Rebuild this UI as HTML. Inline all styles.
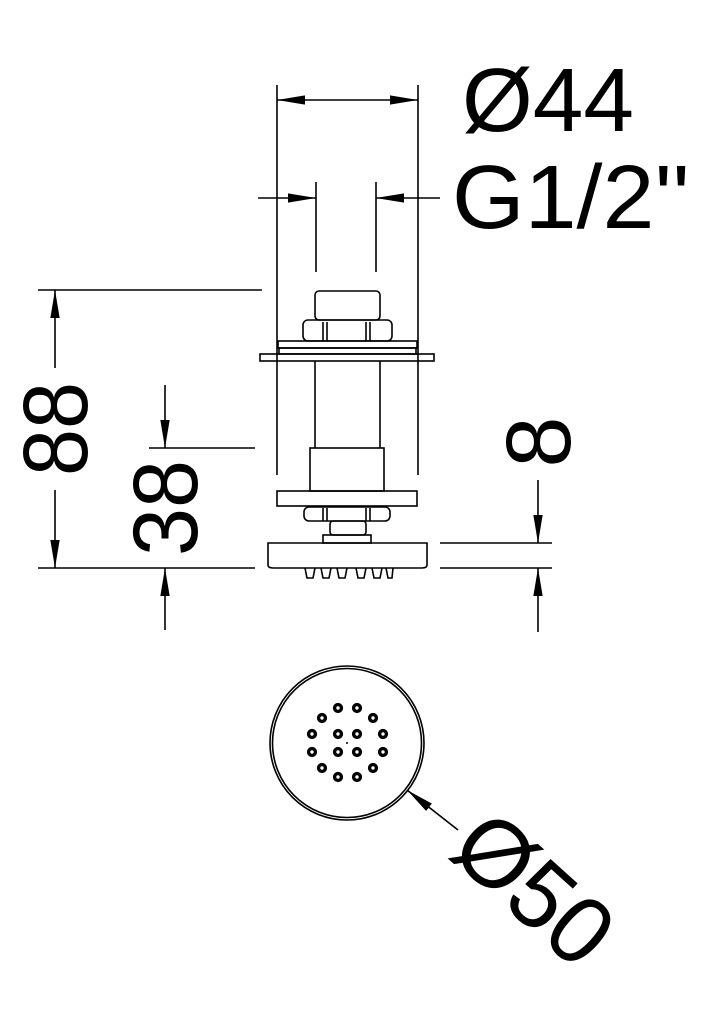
<!DOCTYPE html>
<html><head><meta charset="utf-8"><style>
html,body{margin:0;padding:0;background:#fff;}
svg{display:block;}
text{font-family:"Liberation Sans","DejaVu Sans",sans-serif;fill:#000;}
</style></head><body>
<svg width="724" height="1024" viewBox="0 0 724 1024" xmlns="http://www.w3.org/2000/svg">
<defs>
<marker id="b" viewBox="0 0 30 10" refX="30" refY="5" markerWidth="28" markerHeight="12" markerUnits="userSpaceOnUse" orient="auto-start-reverse">
<path d="M0,0 L30,5 L0,10 z" fill="#000"/></marker>
</defs>
<g stroke="#000" stroke-width="1.6" fill="none">
<line x1="277" y1="85" x2="277" y2="475"/>
<line x1="418" y1="85" x2="418" y2="475"/>
<line x1="316" y1="182" x2="316" y2="272"/>
<line x1="376" y1="182" x2="376" y2="272"/>
<line x1="277" y1="100" x2="418" y2="100" marker-start="url(#b)" marker-end="url(#b)"/>
<line x1="258" y1="198" x2="316" y2="198" marker-end="url(#b)"/>
<line x1="440" y1="198" x2="376" y2="198" marker-end="url(#b)"/>
<line x1="38" y1="290" x2="262" y2="290"/>
<line x1="38" y1="568" x2="255" y2="568"/>
<line x1="55" y1="368" x2="55" y2="290" marker-end="url(#b)"/>
<line x1="55" y1="490" x2="55" y2="568" marker-end="url(#b)"/>
<line x1="149" y1="448" x2="255" y2="448"/>
<line x1="165" y1="385" x2="165" y2="448" marker-end="url(#b)"/>
<line x1="165" y1="630" x2="165" y2="568" marker-end="url(#b)"/>
<line x1="440" y1="543" x2="552" y2="543"/>
<line x1="440" y1="568" x2="552" y2="568"/>
<line x1="538" y1="480" x2="538" y2="543" marker-end="url(#b)"/>
<line x1="538" y1="632" x2="538" y2="568" marker-end="url(#b)"/>
<rect x="315" y="291" width="65" height="29" rx="4"/>
<rect x="303" y="320" width="89" height="21" rx="5"/>
<line x1="323" y1="322" x2="323" y2="341"/><line x1="327" y1="322" x2="327" y2="341"/>
<line x1="366" y1="322" x2="366" y2="341"/><line x1="370" y1="322" x2="370" y2="341"/>
<rect x="278" y="341" width="139" height="7"/>
<rect x="279" y="348" width="137" height="6"/>
<rect x="260" y="354" width="174" height="7"/>
<line x1="315" y1="361" x2="315" y2="448"/><line x1="380" y1="361" x2="380" y2="448"/>
<rect x="310" y="448" width="74" height="43"/>
<rect x="277" y="491" width="140" height="15"/>
<rect x="304" y="507" width="86" height="14" rx="5"/>
<line x1="323" y1="508" x2="323" y2="521"/><line x1="327" y1="508" x2="327" y2="521"/>
<line x1="366" y1="508" x2="366" y2="521"/><line x1="370" y1="508" x2="370" y2="521"/>
<rect x="330" y="521" width="36" height="14" rx="3"/>
<rect x="323" y="535" width="48" height="8"/>
<path d="M268,543 H427 V565 Q427,568 422,568 H273 Q268,568 268,565 Z"/>
<path d="M305,568 l2,10 h6 l2,-10 M321,568 l2,10 h6 l2,-10 M337,568 l2,10 h6 l2,-10 M356,568 l2,10 h6 l2,-10 M372,568 l2,10 h6 l2,-10 M386,568 l2,10 h4 l1,-10"/>
<circle cx="347" cy="743" r="77"/>
<circle cx="347" cy="743" r="74.5"/>
<line x1="458" y1="830" x2="407" y2="790" marker-end="url(#b)"/>
</g>
<circle cx="347" cy="743" r="1" fill="#000"/>
<g fill="none" stroke="#000" stroke-width="3.4">
<circle cx="338" cy="708" r="3.4"/><circle cx="357" cy="708" r="3.4"/>
<circle cx="322" cy="718" r="3.4"/><circle cx="373" cy="718" r="3.4"/>
<circle cx="312" cy="734" r="3.4"/><circle cx="338" cy="734" r="3.4"/><circle cx="357" cy="734" r="3.4"/><circle cx="383" cy="734" r="3.4"/>
<circle cx="312" cy="752" r="3.4"/><circle cx="338" cy="752" r="3.4"/><circle cx="357" cy="752" r="3.4"/><circle cx="383" cy="752" r="3.4"/>
<circle cx="322" cy="768" r="3.4"/><circle cx="373" cy="768" r="3.4"/>
<circle cx="338" cy="777" r="3.4"/><circle cx="357" cy="777" r="3.4"/>
</g>
<text x="462" y="131" font-size="90" textLength="172" lengthAdjust="spacingAndGlyphs">Ø44</text>
<text x="452" y="228" font-size="90" textLength="238" lengthAdjust="spacingAndGlyphs">G1/2''</text>
<text transform="translate(87,429) rotate(-90)" font-size="92" text-anchor="middle" textLength="94" lengthAdjust="spacingAndGlyphs">88</text>
<text transform="translate(197,508) rotate(-90)" font-size="92" text-anchor="middle" textLength="96" lengthAdjust="spacingAndGlyphs">38</text>
<text transform="translate(570,442) rotate(-90)" font-size="92" text-anchor="middle">8</text>
<text transform="translate(535,888) rotate(42) translate(-88,34)" font-size="96" textLength="176" lengthAdjust="spacingAndGlyphs">Ø50</text>
</svg>
</body></html>
